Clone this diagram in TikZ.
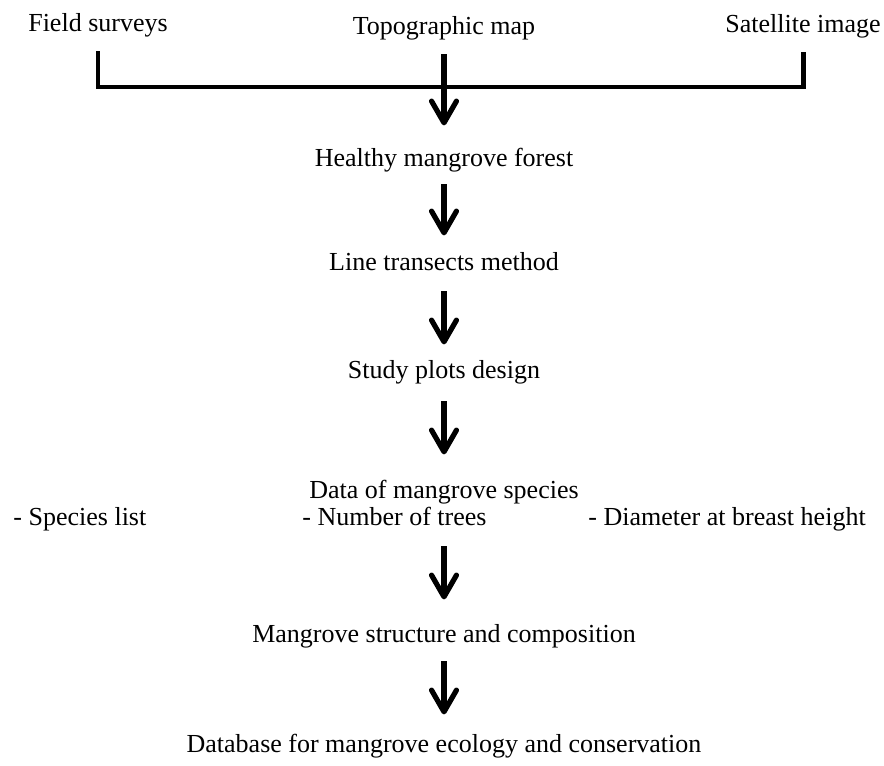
\documentclass[tikz,border=0pt]{standalone}
\usepackage{fontspec}
\setmainfont{Liberation Serif}
\usetikzlibrary{arrows.meta}
\newcommand{\px}{0.4615pt}

\begin{document}
\begin{tikzpicture}[x=\px,y=-\px,
  every node/.style={inner sep=0pt,text height=0.7em,text depth=0.22em,font=\fontsize{12}{14}\selectfont},
  flow/.style={line width=2.4pt,-{Straight Barb[length=10pt,width=11.5pt,round]}},
  bracket/.style={line width=2.3pt}]
 \useasboundingbox (0,0) rectangle (884,765);
 \node [anchor=base] (field) at (98,31) {Field surveys};
 \node [anchor=base] (topo) at (444,34) {Topographic map};
 \node [anchor=base] (satellite) at (803,32) {Satellite image};
 \node [anchor=base] (healthy) at (444,166) {Healthy mangrove forest};
 \node [anchor=base] (transects) at (444,270) {Line transects method};
 \node [anchor=base] (plots) at (444,378) {Study plots design};
 \node [anchor=base] (data) at (444,498) {Data of mangrove species};
 \node [anchor=base west] (list) at (13,525) {- Species list};
 \node [anchor=base west] (number) at (302,525) {- Number of trees};
 \node [anchor=base west] (diameter) at (588,525) {- Diameter at breast height};
 \node [anchor=base] (structure) at (444,642) {Mangrove structure and composition};
 \node [anchor=base] (database) at (444,752) {Database for mangrove ecology and conservation};
 \draw [bracket] ([yshift=-15*\px]field.south) -- (field.south |- 0,87) -- (satellite.south |- 0,87) -- ([yshift=-15*\px]satellite.south);
 \draw [flow,shorten <=15*\px,shorten >=25*\px] (topo.south) -- (healthy.north);
 \draw [flow,shorten <=13*\px,shorten >=19*\px] (healthy.south) -- (transects.north);
 \draw [flow,shorten <=16*\px,shorten >=18*\px] (transects.south) -- (plots.north);
 \draw [flow,shorten <=18*\px,shorten >=28*\px] (plots.south) -- (data.north);
 \draw [flow,shorten <=16*\px,shorten >=27*\px] (data |- number.south) -- (structure.north);
 \draw [flow,shorten <=14*\px,shorten >=22*\px] (structure.south) -- (database.north);
\end{tikzpicture}
\end{document}
